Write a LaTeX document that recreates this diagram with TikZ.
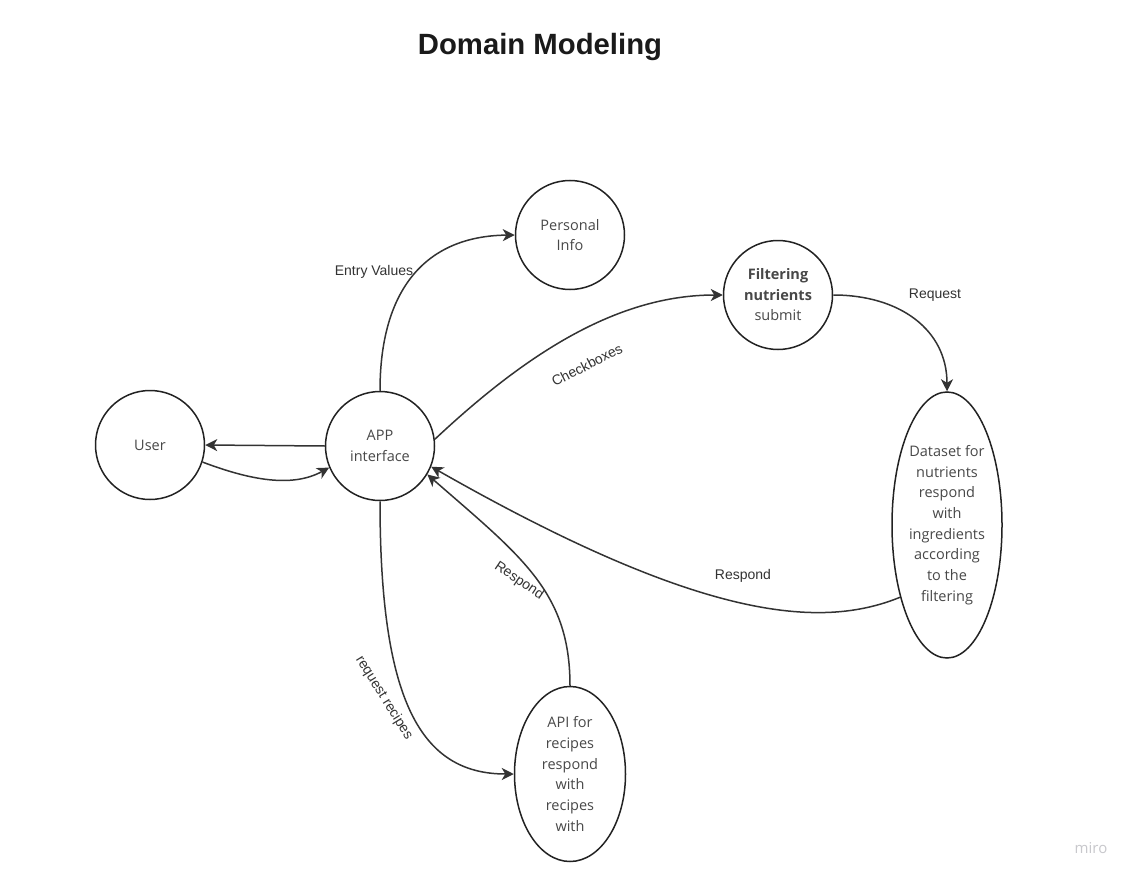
\documentclass[tikz,border=0pt]{standalone}
\usepackage{fontspec}
\setmainfont{Open Sans}
\newfontfamily\arialf{Liberation Sans}
\usetikzlibrary{arrows.meta,shapes.geometric}
\definecolor{ink}{HTML}{222222}
\definecolor{txt}{HTML}{484848}
\definecolor{lbl}{HTML}{333333}
\definecolor{ttl}{HTML}{1A1A1A}
\definecolor{wm}{HTML}{C8C8CC}
\begin{document}
\begin{tikzpicture}[x=1pt,y=-1pt,
  bub/.style={circle,draw=ink,line width=1.5pt,minimum size=109pt,inner sep=0pt,text=txt,align=center,font=\fontsize{14.5}{20.5}\selectfont},
  ovl/.style={ellipse,draw=ink,line width=1.5pt,inner sep=0pt},
  ovltext/.style={text=txt,align=center,font=\fontsize{14.5}{20.7}\selectfont},
  conn/.style={draw=lbl,line width=1.5pt,-{Stealth[length=12pt,width=12pt,inset=3.5pt]}},
  lab/.style={text=lbl,font=\arialf\fontsize{14}{16}\selectfont,inner sep=0pt},
]
\useasboundingbox[fill=white] (0,0) rectangle (1135,880);

\node[font=\arialf\bfseries\fontsize{29.3}{34}\selectfont,text=ttl,anchor=base] (title) at (540,55) {Domain Modeling};

\node[bub] (user) at (150,445) {User};
\node[bub] (app) at (380,446) {APP\\interface};
\node[bub] (pi) at (570,235) {Personal\\Info};
\node[bub] (filt) at (778,295) {\textbf{Filtering}\\\textbf{nutrients}\\submit};
\node[ovl,minimum width=110pt,minimum height=266pt] (ds) at (947,525) {};
\node[ovltext] (dstext) at (ds.center) {Dataset for\\nutrients\\respond\\with\\ingredients\\according\\to the\\filtering};
\node[ovl,minimum width=111pt,minimum height=175pt] (api) at (570,774) {};
\node[ovltext] (apitext) at (api.center) {API for\\recipes\\respond\\with\\recipes\\with};

\draw[conn] (app.west) -- (user.east);
\draw[conn] (user.-18) .. controls (250,480) and (292,488) .. (app.-157);
\draw[conn] (app.north) .. controls (380,290) and (425,236) .. (pi.west);
\draw[conn] (app.7) .. controls (530,350) and (620,295) .. (filt.west);
\draw[conn] (filt.east) .. controls (900,295) and (947,330) .. (ds.north);
\draw[conn] (ds.237) .. controls (820,630) and (700,620) .. (app.-22);
\draw[conn] (api.north) .. controls (570,592) and (522,557) .. (app.-31);
\draw[conn] (app.south) .. controls (380,700) and (420,774) .. (api.west);

\node[lab] (l1) at (374,272) {Entry Values};
\node[lab,rotate=27] (l2) at (587,365) {Checkboxes};
\node[lab] (l3) at (935,295) {Request};
\node[lab] (l4) at (743,576) {Respond};
\node[lab,rotate=-34] (l5) at (519,581) {Respond};
\node[lab,rotate=-58] (l6) at (384,698) {request recipes};

\node[text=wm,font=\fontsize{15}{18}\selectfont] (miro) at (1091,848) {miro};
\end{tikzpicture}
\end{document}
